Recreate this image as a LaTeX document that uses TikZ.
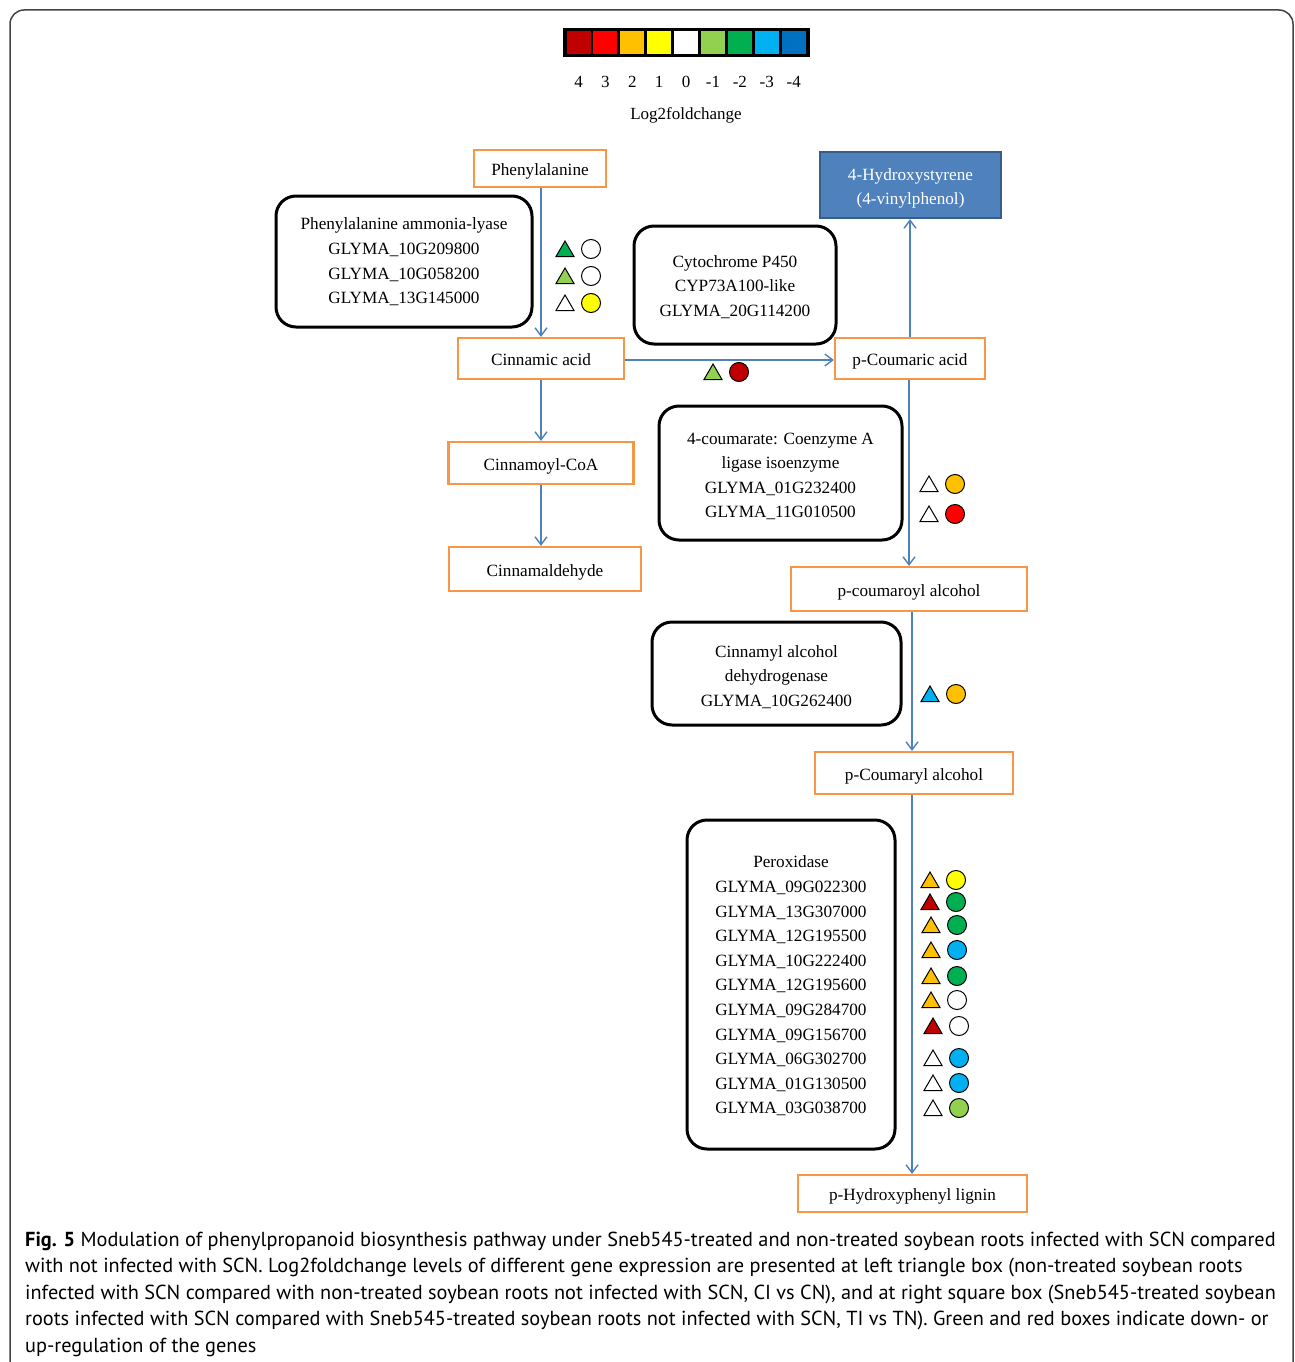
\documentclass[tikz,border=0pt]{standalone}
\usepackage{fontspec}
\setmainfont{Liberation Serif}
\newfontfamily\capfont{PT Sans}
\usetikzlibrary{arrows.meta}
\definecolor{obox}{HTML}{F79646}
\definecolor{barrow}{HTML}{4F81BD}
\definecolor{bfill}{HTML}{4F81BD}
\definecolor{bdraw}{HTML}{385D8A}
\definecolor{cdred}{HTML}{C00000}
\definecolor{cred}{HTML}{FF0000}
\definecolor{corange}{HTML}{FFC000}
\definecolor{cyellow}{HTML}{FFFF00}
\definecolor{clgreen}{HTML}{92D050}
\definecolor{cgreen}{HTML}{00B050}
\definecolor{clblue}{HTML}{00B0F0}
\definecolor{cdblue}{HTML}{0070C0}
\definecolor{framec}{HTML}{444444}
\newcommand\mkpair[4]{%
  \draw[line width=1pt,fill=#3] (#1-9,#2+7.5) -- (#1+9,#2+7.5) -- (#1,#2-8) -- cycle;
  \draw[line width=1pt,fill=#4] (#1+26,#2) circle[radius=9.5];
}
\tikzset{
  orbox/.style={draw=obox,line width=2.2pt,inner sep=0pt,text height=16pt,text depth=2pt,
     font=\fontsize{17.2}{20}\selectfont},
  gbox/.style={draw=black,line width=3pt,rounded corners=20pt,inner sep=0pt},
  gtext/.style={inner sep=0pt,align=center,font=\fontsize{17.2}{24.6}\selectfont},
  flow/.style={draw=barrow,line width=1.6pt,-{Straight Barb[length=8pt,width=12pt,line width=1.4pt]}},
  capline/.style={anchor=base west,inner sep=0pt,font=\capfont\fontsize{20.3}{26}\selectfont},
  tick/.style={inner sep=0pt,font=\fontsize{17}{20}\selectfont}
}
\begin{document}
\begin{tikzpicture}[x=1pt,y=-1pt]
\useasboundingbox (0,0) rectangle (1295,1362);
\fill[white] (0,0) rectangle (1295,1362);
\draw[framec,line width=1.5pt,rounded corners=14pt] (10,10) rectangle (1293,1390);

% colour bar
\fill[black] (563,28) rectangle (810,57);
\foreach \c [count=\i from 0] in {cdred,cred,corange,cyellow,white,clgreen,cgreen,clblue,cdblue}{
  \fill[\c] (566.5+\i*26.9,31) rectangle (566.5+\i*26.9+24,54);
}
\foreach \t [count=\i from 0] in {4,3,2,1,0,-1,-2,-3,-4}{
  \node[tick,anchor=base] (tk\i) at (578.5+\i*26.9,88) {\t};
}
\node[tick,anchor=base] (lfc) at (686,120) {Log2foldchange};

% orange boxes
\node[orbox,minimum width=132pt,minimum height=37pt] (phe) at (540,168.5) {Phenylalanine};
\node[orbox,minimum width=166pt,minimum height=41pt] (cin) at (541,358.5) {Cinnamic acid};
\node[orbox,minimum width=185pt,minimum height=42pt] (coa) at (541,463) {Cinnamoyl-CoA};
\node[orbox,minimum width=192pt,minimum height=44pt] (ald) at (545,569) {Cinnamaldehyde};
\node[orbox,minimum width=150pt,minimum height=41pt] (pcac) at (910,358.5) {p-Coumaric acid};
\node[orbox,minimum width=236pt,minimum height=44pt] (pcoa) at (909,589) {p-coumaroyl alcohol};
\node[orbox,minimum width=198pt,minimum height=42pt] (pcya) at (914,773) {p-Coumaryl alcohol};
\node[orbox,minimum width=229pt,minimum height=37pt] (lig) at (912.5,1193.5) {p-Hydroxyphenyl lignin};
\node[draw=bdraw,fill=bfill,line width=2.2pt,inner sep=0pt,
      minimum width=181pt,minimum height=66pt] (hyd) at (910.5,185) {};
\node[gtext,text=white] (hydt) at ([yshift=-3.5pt]hyd.center) {4-Hydroxystyrene\\(4-vinylphenol)};

% enzyme boxes
\node[gbox,minimum width=256pt,minimum height=131pt] (pal) at (404,261.5) {};
\node[gtext] (palt) at ([yshift=-0.5pt]pal.center)
  {Phenylalanine ammonia-lyase\\GLYMA\_10G209800\\GLYMA\_10G058200\\GLYMA\_13G145000};
\node[gbox,minimum width=202pt,minimum height=118pt] (cyp) at (735,285) {};
\node[gtext] (cypt) at ([yshift=-2pt]cyp.center)
  {Cytochrome P450\\CYP73A100-like\\GLYMA\_20G114200};
\node[gbox,minimum width=243pt,minimum height=134pt] (cl4) at (780.5,473) {};
\node[gtext] (cl4t) at ([yshift=-3.5pt]cl4.center)
  {4-coumarate: Coenzyme A\\ligase isoenzyme\\GLYMA\_01G232400\\GLYMA\_11G010500};
\node[gbox,minimum width=249pt,minimum height=103pt] (cad) at (776.5,673.5) {};
\node[gtext] (cadt) at ([yshift=-3.5pt]cad.center)
  {Cinnamyl alcohol\\dehydrogenase\\GLYMA\_10G262400};
\node[gbox,minimum width=208pt,minimum height=329pt] (prx) at (791,984.5) {};
\node[gtext] (prxt) at ([yshift=-1.5pt]prx.center)
  {Peroxidase\\GLYMA\_09G022300\\GLYMA\_13G307000\\GLYMA\_12G195500\\GLYMA\_10G222400\\GLYMA\_12G195600\\GLYMA\_09G284700\\GLYMA\_09G156700\\GLYMA\_06G302700\\GLYMA\_01G130500\\GLYMA\_03G038700};

% connectors
\draw[flow] ([xshift=1pt]phe.south) -- ([xshift=1pt]phe.south |- cin.north);
\draw[flow] ([yshift=-1.5pt]cin.east) -- ([yshift=-1.5pt]pcac.west);
\draw[flow] (cin.south) -- (cin.south |- coa.north);
\draw[flow] (coa.south) -- (coa.south |- ald.north);
\draw[flow] (pcac.north) -- (pcac.north |- hyd.south);
\draw[flow] ([xshift=-1pt]pcac.south) -- ([xshift=-1pt]pcac.south |- pcoa.north);
\draw[flow] ([xshift=3pt]pcoa.south) -- ([xshift=3pt]pcoa.south |- pcya.north);
\draw[flow] ([xshift=-2pt]pcya.south) -- ([xshift=-2pt]pcya.south |- lig.north);

% markers
\mkpair{565}{249}{cgreen}{white}
\mkpair{565}{276}{clgreen}{white}
\mkpair{565}{303}{white}{cyellow}
\mkpair{713}{372}{clgreen}{cdred}
\mkpair{929}{484}{white}{corange}
\mkpair{929}{514}{white}{cred}
\mkpair{930}{694}{clblue}{corange}
\mkpair{930}{880}{corange}{cyellow}
\mkpair{930}{902}{cdred}{cgreen}
\mkpair{931}{925}{corange}{cgreen}
\mkpair{931}{950}{corange}{clblue}
\mkpair{931}{976}{corange}{cgreen}
\mkpair{931}{1000}{corange}{white}
\mkpair{933}{1026}{cdred}{white}
\mkpair{933}{1058}{white}{clblue}
\mkpair{933}{1083}{white}{clblue}
\mkpair{933}{1108}{white}{clgreen}

% caption
\node[capline] (cap1) at (25,1246) {\textbf{Fig. 5} Modulation of phenylpropanoid biosynthesis pathway under Sneb545-treated and non-treated soybean roots infected with SCN compared};
\node[capline] (cap2) at (25,1272.5) {with not infected with SCN. Log2foldchange levels of different gene expression are presented at left triangle box (non-treated soybean roots};
\node[capline] (cap3) at (25,1299) {infected with SCN compared with non-treated soybean roots not infected with SCN, CI vs CN), and at right square box (Sneb545-treated soybean};
\node[capline] (cap4) at (25,1325.5) {roots infected with SCN compared with Sneb545-treated soybean roots not infected with SCN, TI vs TN). Green and red boxes indicate down- or};
\node[capline] (cap5) at (25,1352) {up-regulation of the genes};
\end{tikzpicture}
\end{document}
